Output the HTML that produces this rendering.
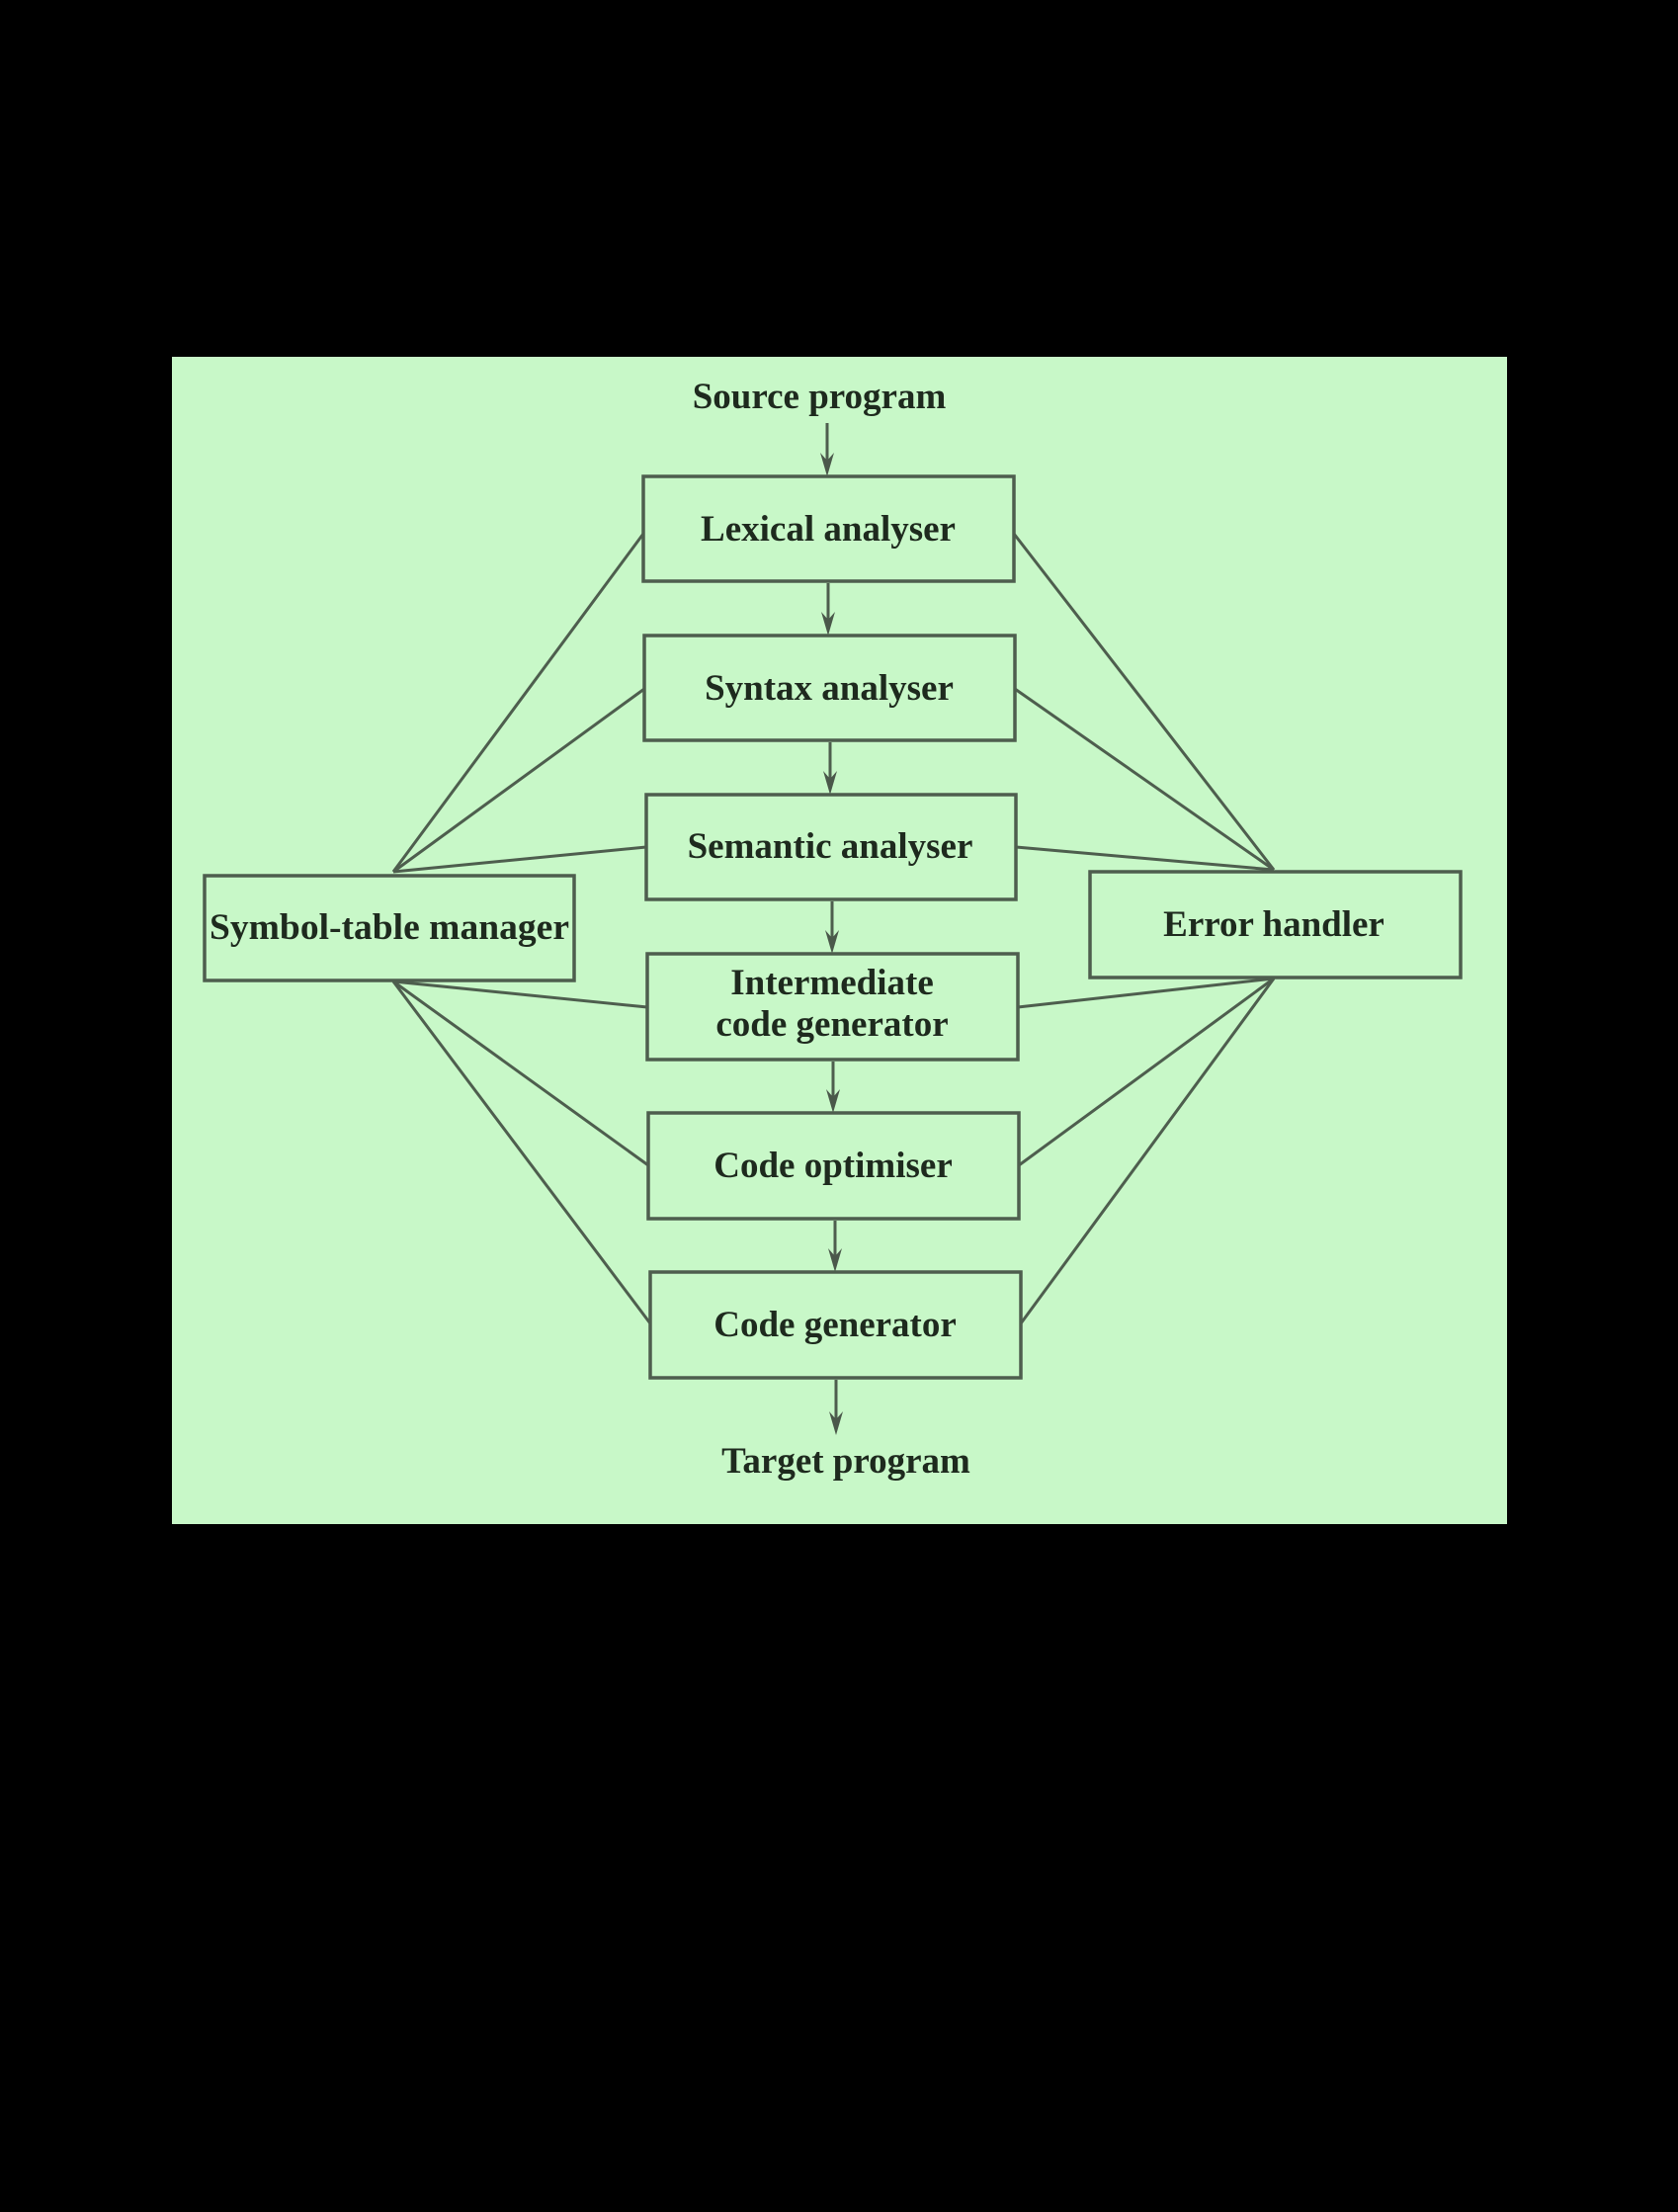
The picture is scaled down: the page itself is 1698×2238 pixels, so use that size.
<!DOCTYPE html>
<html><head><style>
html,body{margin:0;padding:0;background:#000;}
svg{display:block;}
text{font-family:"Liberation Serif","Times New Roman",serif;font-weight:bold;fill:#1e2a1e;font-size:37px;text-anchor:middle;}
</style></head><body>
<svg width="1698" height="2238" viewBox="0 0 1698 2238">
<rect x="0" y="0" width="1698" height="2238" fill="#000"/>
<rect x="174" y="361" width="1351" height="1181" fill="#c8f8c8"/>
<g stroke="#4e5e4e" stroke-width="3" fill="none">
<line x1="398" y1="882" x2="651" y2="540"/>
<line x1="398" y1="882" x2="652" y2="697"/>
<line x1="398" y1="882" x2="654" y2="857"/>
<line x1="398" y1="993" x2="655" y2="1019"/>
<line x1="398" y1="993" x2="656" y2="1179"/>
<line x1="398" y1="993" x2="658" y2="1339"/>
<line x1="1289" y1="880" x2="1026" y2="540"/>
<line x1="1289" y1="880" x2="1027" y2="697"/>
<line x1="1289" y1="880" x2="1028" y2="857"/>
<line x1="1289" y1="990" x2="1030" y2="1019"/>
<line x1="1289" y1="990" x2="1031" y2="1179"/>
<line x1="1289" y1="990" x2="1033" y2="1339"/>
<line x1="837" y1="428" x2="837" y2="470"/>
<line x1="838" y1="590" x2="838" y2="630"/>
<line x1="840" y1="751" x2="840" y2="792"/>
<line x1="842" y1="912" x2="842" y2="954"/>
<line x1="843" y1="1074" x2="843" y2="1115"/>
<line x1="845" y1="1235" x2="845" y2="1276"/>
<line x1="846" y1="1396" x2="846" y2="1440"/>
</g>
<g fill="#4a584a">
<polygon points="830,458 837,482 844,458 837,466"/>
<polygon points="831,619 838,643 845,619 838,627"/>
<polygon points="833,780 840,804 847,780 840,788"/>
<polygon points="835,941 842,965 849,941 842,949"/>
<polygon points="836,1102 843,1126 850,1102 843,1110"/>
<polygon points="838,1263 845,1287 852,1263 845,1271"/>
<polygon points="839,1428 846,1452 853,1428 846,1436"/>
</g>
<g stroke="#4e5e4e" stroke-width="3.5" fill="#c8f8c8">
<rect x="651" y="482" width="375" height="106"/>
<rect x="652" y="643" width="375" height="106"/>
<rect x="654" y="804" width="374" height="106"/>
<rect x="655" y="965" width="375" height="107"/>
<rect x="656" y="1126" width="375" height="107"/>
<rect x="658" y="1287" width="375" height="107"/>
<rect x="207" y="886" width="374" height="106"/>
<rect x="1103" y="882" width="375" height="107"/>
</g>
<text x="829" y="413">Source program</text>
<text x="838" y="547">Lexical analyser</text>
<text x="839" y="708">Syntax analyser</text>
<text x="840" y="868">Semantic analyser</text>
<text x="842" y="1006">Intermediate</text>
<text x="842" y="1048">code generator</text>
<text x="843" y="1191">Code optimiser</text>
<text x="845" y="1352">Code generator</text>
<text x="394" y="950" textLength="364" lengthAdjust="spacingAndGlyphs">Symbol-table manager</text>
<text x="1289" y="947">Error handler</text>
<text x="856" y="1490">Target program</text>
</svg>
</body></html>
